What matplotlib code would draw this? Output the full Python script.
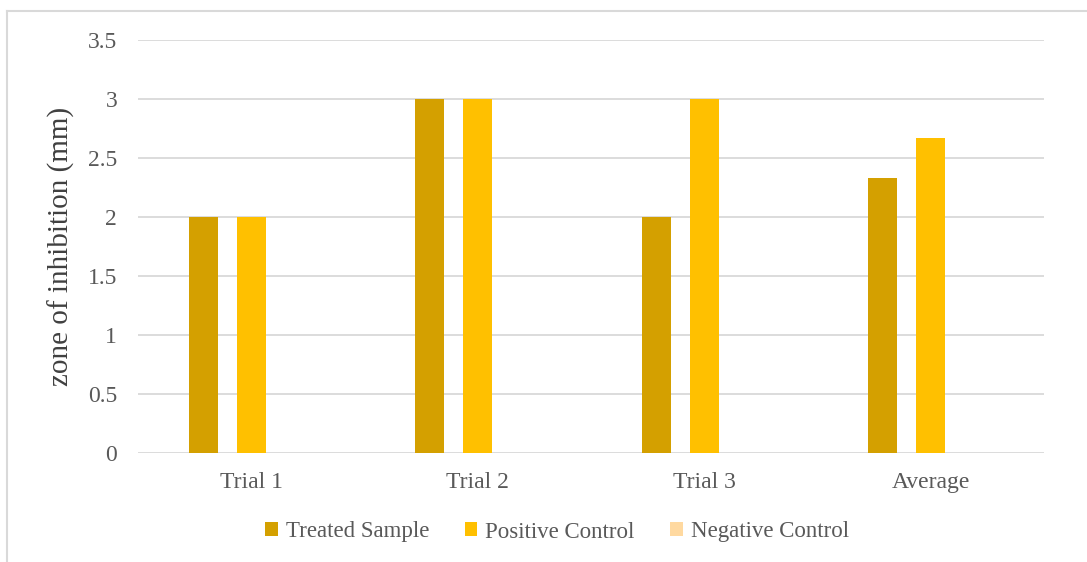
import numpy as np
import matplotlib.pyplot as plt
from matplotlib.lines import Line2D

plt.rcParams['font.family'] = ['Liberation Serif', 'DejaVu Serif']

categories = ["Trial 1", "Trial 2", "Trial 3", "Average"]
treated = [2, 3, 2, 2.33]
positive = [2, 3, 3, 2.67]
negative = [0, 0, 0, 0]
series_names = ["Treated Sample", "Positive Control", "Negative Control"]
colors = ["#D4A000", "#FFC000", "#FFD9A0"]

fig = plt.figure(figsize=(10.87, 5.62), dpi=100)
ax = fig.add_axes([138 / 1087, 109 / 562, 906 / 1087, 413 / 562])

x = np.arange(len(categories))
width = 0.126
offset = 0.212
for i, (vals, name, c) in enumerate(zip([treated, positive, negative], series_names, colors)):
    ax.bar(x + (i - 1) * offset, vals, width, color=c, label=name, zorder=3)

ax.set_xlim(-0.5, len(categories) - 0.5)
ax.set_ylim(0, 3.5)
ax.set_yticks(np.arange(0, 3.51, 0.5))
ax.set_yticklabels(["0", "0.5", "1", "1.5", "2", "2.5", "3", "3.5"])
ax.set_xticks(x)
ax.set_xticklabels(categories)
ax.grid(axis='y', color='#D9D9D9', linewidth=1.3, zorder=0)
for s in ax.spines.values():
    s.set_visible(False)
ax.tick_params(axis='both', length=0, labelsize=17, colors='#595959')
ax.tick_params(axis='x', pad=14)
ax.tick_params(axis='y', pad=15)
ax.set_ylabel("zone of inhibition (mm)", fontsize=21, color='#404040', labelpad=9)

leg = fig.legend(loc='center', bbox_to_anchor=(557 / 1087, 1 - 532 / 562), ncol=3,
                 frameon=False, fontsize=16.5, handlelength=0.55, handleheight=0.55,
                 handletextpad=0.35, columnspacing=1.55)
for t in leg.get_texts():
    t.set_color('#595959')

# chart border
fig.add_artist(Line2D([7 / 1087, 7 / 1087], [0, 1 - 11 / 562], transform=fig.transFigure,
                      color='#D9D9D9', linewidth=1.5))
fig.add_artist(Line2D([7 / 1087, 1], [1 - 11 / 562, 1 - 11 / 562], transform=fig.transFigure,
                      color='#D9D9D9', linewidth=1.5))

fig.savefig("out.png", dpi=100)
